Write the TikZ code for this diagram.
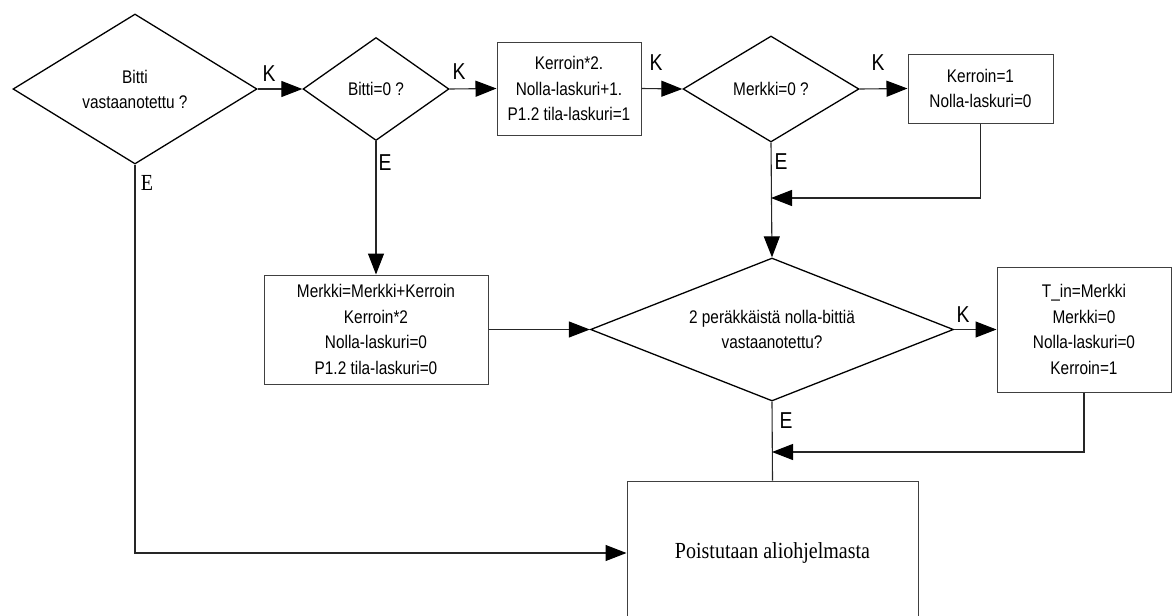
\documentclass[tikz,border=0pt]{standalone}
\usepackage{fontspec}
\setmainfont{Liberation Serif}[FakeStretch=0.87]
\setsansfont{Liberation Sans}[FakeStretch=0.84]
\usetikzlibrary{shapes.geometric,arrows.meta}

\tikzset{
	kysymys/.style={draw=black,line width=1.3pt,diamond,inner sep=0pt,align=center,font=\sffamily\fontsize{18.3}{25}\selectfont},
	laatikko/.style={draw=black!75,line width=1pt,rectangle,inner sep=0pt,align=center,font=\sffamily\fontsize{18.3}{25.5}\selectfont},
	nuoli/.style={draw=black!85,line width=1.1pt,-{Triangle[length=21pt,width=16pt,black]}},
	viiva/.style={draw=black!85,line width=1.1pt},
	vastaus/.style={font=\sffamily\fontsize{23}{23}\selectfont,inner sep=0pt}
}

\begin{document}
\begin{tikzpicture}[x=1pt,y=-1pt]
		\useasboundingbox (0,0) rectangle (1176,616);
		% paatokset ja laatikot
		\node[kysymys,shape aspect=1.63,minimum width=244pt,minimum height=150pt] (bitti) at (135,89) {Bitti\\vastaanotettu ?};
		\node[kysymys,shape aspect=1.42,minimum width=146pt,minimum height=103pt] (nolla) at (376,89) {Bitti=0 ?};
		\node[laatikko,minimum width=144pt,minimum height=93pt] (kerroin) at (569,88.5) {Kerroin*2.\\Nolla-laskuri+1.\\P1.2 tila-laskuri=1};
		\node[kysymys,shape aspect=1.66,minimum width=176pt,minimum height=106pt] (merkki) at (771,89) {Merkki=0 ?};
		\node[laatikko,minimum width=145pt,minimum height=69pt] (nollaus) at (980.5,88.5) {Kerroin=1\\Nolla-laskuri=0};
		\node[laatikko,minimum width=224pt,minimum height=109pt] (summa) at (376,329.5) {Merkki=Merkki+Kerroin\\Kerroin*2\\Nolla-laskuri=0\\P1.2 tila-laskuri=0};
		\node[kysymys,shape aspect=2.54,minimum width=363pt,minimum height=143pt] (kaksi) at (772,329.5) {2 peräkkäistä nolla-bittiä\\vastaanotettu?};
		\node[laatikko,minimum width=174pt,minimum height=125pt] (tulos) at (1084,329.5) {T\_in=Merkki\\Merkki=0\\Nolla-laskuri=0\\Kerroin=1};
		\node[laatikko,minimum width=291pt,minimum height=144pt,font=\rmfamily\fontsize{23}{23}\selectfont] (poistu) at (772.5,553) {Poistutaan aliohjelmasta};
		\coordinate (liitos1) at (771,198);
		\coordinate (liitos2) at (772,452);
		% nuolet
		\draw[nuoli] (bitti.east) -- (nolla.west);
		\draw[nuoli] (nolla.east) -- (kerroin.west);
		\draw[nuoli] (kerroin.east) -- (merkki.west);
		\draw[nuoli] (merkki.east) -- (nollaus.west);
		\draw[nuoli] (nolla.south) -- (summa.north);
		\draw[nuoli] (merkki.south) -- (kaksi.north);
		\draw[nuoli] (nollaus.south) |- (liitos1);
		\draw[nuoli] (summa.east) -- (kaksi.west);
		\draw[nuoli] (kaksi.east) -- (tulos.west);
		\draw[viiva] (kaksi.south) -- (poistu.north);
		\draw[nuoli] (tulos.south) |- (liitos2);
		\draw[nuoli] (bitti.south) |- (poistu.west);
		% K ja E
		\foreach \n/\x/\y in {1/269/74,2/459/72,3/656/63,4/878/63,5/963/315} {
			\node[vastaus] (k\n) at (\x,\y) {K};
		}
		\foreach \n/\x/\y in {1/385/163,2/781/162,3/786/421} {
			\node[vastaus] (e\n) at (\x,\y) {E};
		}
		\node[vastaus,font=\rmfamily\fontsize{23}{23}\selectfont] (e0) at (147,183) {E};
\end{tikzpicture}
\end{document}
